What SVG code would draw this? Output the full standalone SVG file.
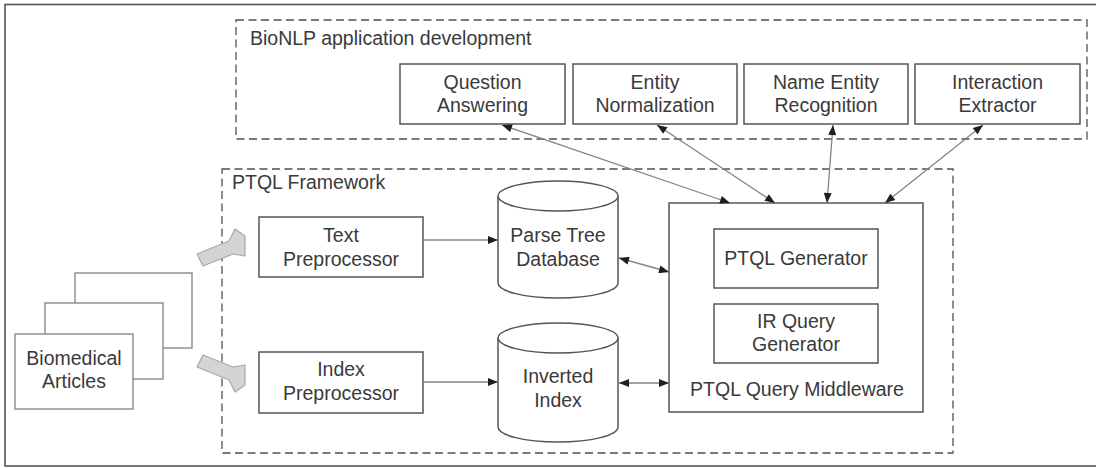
<svg xmlns="http://www.w3.org/2000/svg" width="1096" height="468" viewBox="0 0 1096 468">
  <style>
    .frame { fill: #ffffff; stroke: #555555; stroke-width: 1.6; }
    .group { fill: none; stroke: #505050; stroke-width: 1.3; stroke-dasharray: 8 4.5; }
    .box { fill: #ffffff; stroke: #555555; stroke-width: 1.5; }
    .page { fill: #ffffff; stroke: #8a8a8a; stroke-width: 1.4; }
    .db { fill: #ffffff; stroke: #555555; stroke-width: 1.5; }
    .t { font-family: "Liberation Sans", Arial, sans-serif; font-size: 19.5px; fill: #3a3a3a; text-anchor: middle; }
    .title { font-family: "Liberation Sans", Arial, sans-serif; font-size: 19.5px; fill: #3a3a3a; text-anchor: start; }
    .link { fill: none; stroke: #858585; stroke-width: 1.3; }
    .block { fill: #d4d4d4; stroke: #a8a8a8; stroke-width: 1.2; stroke-linejoin: round; }
  </style>
  <defs>
    <marker id="head" viewBox="0 0 10 8" refX="10" refY="4" markerUnits="userSpaceOnUse" markerWidth="11" markerHeight="8" orient="auto-start-reverse">
      <path d="M0,0 L10,4 L0,8 Z" fill="#1e1e1e"/>
    </marker>
  </defs>

  <!-- outer border -->
  <rect x="0" y="0" width="1096" height="468" fill="#ffffff"/>
  <rect class="frame" x="5" y="4.5" width="1100" height="461.5"/>

  <!-- application layer -->
  <g id="bionlp-group">
    <rect class="group" x="236" y="20" width="851" height="119"/>
    <text class="title" x="250" y="45">BioNLP application development</text>
  </g>

  <g id="question-answering">
    <rect class="box" x="400" y="64" width="165" height="60"/>
    <text class="t" x="482.5" y="89">Question</text>
    <text class="t" x="482.5" y="112">Answering</text>
  </g>
  <g id="entity-normalization">
    <rect class="box" x="573" y="64" width="164" height="60"/>
    <text class="t" x="655" y="89">Entity</text>
    <text class="t" x="655" y="112">Normalization</text>
  </g>
  <g id="name-entity-recognition">
    <rect class="box" x="744" y="64" width="164" height="60"/>
    <text class="t" x="826" y="89">Name Entity</text>
    <text class="t" x="826" y="112">Recognition</text>
  </g>
  <g id="interaction-extractor">
    <rect class="box" x="915" y="64" width="165" height="60"/>
    <text class="t" x="997.5" y="89">Interaction</text>
    <text class="t" x="997.5" y="112">Extractor</text>
  </g>

  <!-- framework layer -->
  <g id="ptql-framework">
    <rect class="group" x="222" y="169" width="731" height="284"/>
    <text class="title" x="232" y="189">PTQL Framework</text>
  </g>

  <g id="text-preprocessor">
    <rect class="box" x="259" y="217" width="164" height="60"/>
    <text class="t" x="341" y="242">Text</text>
    <text class="t" x="341" y="266">Preprocessor</text>
  </g>
  <g id="index-preprocessor">
    <rect class="box" x="259" y="352" width="164" height="61"/>
    <text class="t" x="341" y="376">Index</text>
    <text class="t" x="341" y="400">Preprocessor</text>
  </g>

  <g id="parse-tree-database">
    <path class="db" d="M498,196 A60,15 0 0 1 618,196 L618,283 A60,15 0 0 1 498,283 Z"/>
    <path class="db" fill="none" d="M498,196 A60,15 0 0 0 618,196"/>
    <text class="t" x="558" y="242">Parse Tree</text>
    <text class="t" x="558" y="266">Database</text>
  </g>
  <g id="inverted-index">
    <path class="db" d="M498,338 A60,15 0 0 1 618,338 L618,427 A60,15 0 0 1 498,427 Z"/>
    <path class="db" fill="none" d="M498,338 A60,15 0 0 0 618,338"/>
    <text class="t" x="558" y="383">Inverted</text>
    <text class="t" x="558" y="407">Index</text>
  </g>

  <g id="ptql-query-middleware">
    <rect class="box" x="669" y="203" width="254" height="209"/>
    <text class="t" x="797" y="396">PTQL Query Middleware</text>
  </g>
  <g id="ptql-generator">
    <rect class="box" x="714" y="229" width="164" height="59"/>
    <text class="t" x="796" y="265">PTQL Generator</text>
  </g>
  <g id="ir-query-generator">
    <rect class="box" x="714" y="304" width="164" height="59"/>
    <text class="t" x="796" y="328">IR Query</text>
    <text class="t" x="796" y="351">Generator</text>
  </g>

  <!-- input documents -->
  <g id="biomedical-articles">
    <rect class="page" x="75" y="273" width="117" height="75"/>
    <rect class="page" x="45" y="303" width="118" height="76"/>
    <rect class="page" x="15" y="334" width="118" height="75"/>
    <text class="t" x="74" y="365">Biomedical</text>
    <text class="t" x="74" y="388">Articles</text>
  </g>

  <!-- connectors -->
  <g id="connectors">
    <polygon class="block" points="197,254 229,241 235,229 245,236 245,256 233,254 203,266"/>
    <polygon class="block" points="203,355 233,367 245,365 245,385 235,392 229,380 197,367"/>

    <line class="link" x1="502" y1="125" x2="730" y2="203" marker-start="url(#head)" marker-end="url(#head)"/>
    <line class="link" x1="657" y1="125" x2="775" y2="203" marker-start="url(#head)" marker-end="url(#head)"/>
    <line class="link" x1="833" y1="125" x2="827" y2="203" marker-start="url(#head)" marker-end="url(#head)"/>
    <line class="link" x1="983" y1="125" x2="885" y2="203" marker-start="url(#head)" marker-end="url(#head)"/>

    <line class="link" x1="423" y1="240" x2="498" y2="240" marker-end="url(#head)"/>
    <line class="link" x1="423" y1="382" x2="498" y2="382" marker-end="url(#head)"/>
    <line class="link" x1="619" y1="258" x2="669" y2="272" marker-start="url(#head)" marker-end="url(#head)"/>
    <line class="link" x1="619" y1="383" x2="669" y2="383" marker-start="url(#head)" marker-end="url(#head)"/>
  </g>
</svg>
